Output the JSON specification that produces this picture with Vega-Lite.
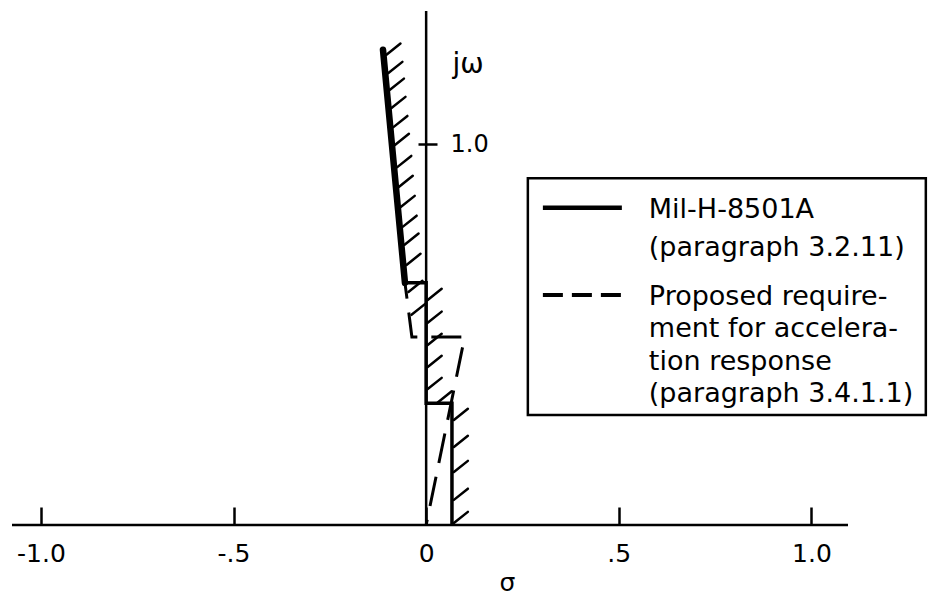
{
  "$schema": "https://vega.github.io/schema/vega-lite/v6.json",
  "width": 836,
  "height": 514,
  "autosize": {"type": "none"},
  "padding": {"left": 12, "top": 11, "right": 81, "bottom": 70},
  "background": "white",
  "config": {
    "view": {"stroke": null},
    "font": "DejaVu Sans",
    "axis": {"grid": false, "labelColor": "black", "titleColor": "black", "tickColor": "black", "titleFontWeight": "normal"}
  },
  "datasets": {
    "boundary": [
      {"req": "Mil-H-8501A", "seq": 1, "sigma": -0.112, "omega": 1.248},
      {"req": "Mil-H-8501A", "seq": 2, "sigma": -0.055, "omega": 0.636},
      {"req": "Mil-H-8501A", "seq": 3, "sigma": 0, "omega": 0.636},
      {"req": "Mil-H-8501A", "seq": 4, "sigma": 0, "omega": 0.32},
      {"req": "Mil-H-8501A", "seq": 5, "sigma": 0.067, "omega": 0.32},
      {"req": "Mil-H-8501A", "seq": 6, "sigma": 0.067, "omega": 0},
      {"req": "Proposed", "seq": 1, "sigma": -0.112, "omega": 1.248},
      {"req": "Proposed", "seq": 2, "sigma": -0.055, "omega": 0.636},
      {"req": "Proposed", "seq": 3, "sigma": -0.037, "omega": 0.494},
      {"req": "Proposed", "seq": 4, "sigma": 0.1, "omega": 0.494},
      {"req": "Proposed", "seq": 5, "sigma": 0, "omega": 0}
    ],
    "hatch": [
      {"sigma": -0.103, "omega": 1.235},
      {"sigma": -0.098, "omega": 1.187},
      {"sigma": -0.094, "omega": 1.143},
      {"sigma": -0.09, "omega": 1.095},
      {"sigma": -0.085, "omega": 1.045},
      {"sigma": -0.081, "omega": 0.998},
      {"sigma": -0.075, "omega": 0.94},
      {"sigma": -0.071, "omega": 0.888},
      {"sigma": -0.066, "omega": 0.835},
      {"sigma": -0.061, "omega": 0.783},
      {"sigma": -0.056, "omega": 0.736},
      {"sigma": -0.051, "omega": 0.683},
      {"sigma": -0.046, "omega": 0.612},
      {"sigma": -0.038, "omega": 0.552},
      {"sigma": 0.004, "omega": 0.591},
      {"sigma": 0.004, "omega": 0.531},
      {"sigma": 0.004, "omega": 0.473},
      {"sigma": 0.004, "omega": 0.415},
      {"sigma": 0.004, "omega": 0.357},
      {"sigma": 0.03, "omega": 0.322},
      {"sigma": 0.072, "omega": 0.276},
      {"sigma": 0.072, "omega": 0.205},
      {"sigma": 0.072, "omega": 0.139},
      {"sigma": 0.072, "omega": 0.066},
      {"sigma": 0.072, "omega": 0.005}
    ],
    "single": [{}]
  },
  "layer": [
    {
      "description": "Requirement boundaries; this layer also carries the shared scales and axes",
      "data": {"name": "boundary"},
      "transform": [{"filter": "datum.req === 'Proposed'"}],
      "mark": {"type": "line", "color": "black", "strokeWidth": 3, "strokeDash": [30, 14]},
      "encoding": {
        "x": {
          "field": "sigma",
          "type": "quantitative",
          "scale": {"domain": [-1.075, 1.095], "nice": false, "zero": false},
          "axis": {
            "orient": "bottom",
            "offset": -18,
            "domain": false,
            "values": [-1, -0.5, 0, 0.5, 1],
            "tickSize": 18,
            "tickWidth": 2.5,
            "labelExpr": "datum.value == 0 ? '0' : datum.value == 1 ? '1.0' : datum.value == -1 ? '-1.0' : datum.value == 0.5 ? '.5' : '-.5'",
            "labelFontSize": 25,
            "labelPadding": 16,
            "labelFlush": false,
            "labelOverlap": false,
            "title": "σ",
            "titleFontSize": 25,
            "titleX": 495,
            "titleY": 75,
            "titleAlign": "center",
            "titleBaseline": "middle"
          }
        },
        "y": {
          "field": "omega",
          "type": "quantitative",
          "scale": {"domain": [0, 1.35], "nice": false, "zero": false},
          "axis": {
            "orient": "right",
            "offset": -430,
            "domain": false,
            "values": [1],
            "tickSize": 19,
            "tickWidth": 2.5,
            "labelExpr": "'1.0'",
            "labelFontSize": 24,
            "labelPadding": 13,
            "labelAlign": "left",
            "labelBaseline": "middle",
            "title": "jω",
            "titleAngle": 0,
            "titleX": 34,
            "titleY": 61,
            "titleAlign": "left",
            "titleBaseline": "alphabetic",
            "titleFontSize": 28
          }
        },
        "order": {"field": "seq"}
      }
    },
    {
      "description": "Imaginary axis",
      "data": {"name": "single"},
      "mark": {"type": "rule", "color": "black", "strokeWidth": 2.5},
      "encoding": {"x": {"datum": 0, "type": "quantitative"}}
    },
    {
      "description": "Real axis",
      "data": {"name": "single"},
      "mark": {"type": "rule", "color": "black", "strokeWidth": 2.5},
      "encoding": {"y": {"datum": 0, "type": "quantitative"}}
    },
    {
      "data": {"name": "boundary"},
      "transform": [{"filter": "datum.req === 'Mil-H-8501A'"}],
      "mark": {"type": "line", "color": "black", "strokeWidth": 3.5},
      "encoding": {
        "x": {"field": "sigma", "type": "quantitative"},
        "y": {"field": "omega", "type": "quantitative"},
        "order": {"field": "seq"}
      }
    },
    {
      "description": "Segment shared by both requirements, drawn heavier",
      "data": {"name": "boundary"},
      "transform": [{"filter": "datum.req === 'Mil-H-8501A' && datum.seq <= 2"}],
      "mark": {"type": "line", "color": "black", "strokeWidth": 6.5, "strokeCap": "round"},
      "encoding": {
        "x": {"field": "sigma", "type": "quantitative"},
        "y": {"field": "omega", "type": "quantitative"},
        "order": {"field": "seq"}
      }
    },
    {
      "description": "Hatching on the excluded side of each boundary",
      "data": {"name": "hatch"},
      "mark": {"type": "point", "shape": "M0,0L1,-0.8", "filled": false, "stroke": "black", "strokeWidth": 2.5, "size": 784, "opacity": 1, "strokeCap": "round"},
      "encoding": {
        "x": {"field": "sigma", "type": "quantitative"},
        "y": {"field": "omega", "type": "quantitative"}
      }
    },
    {
      "description": "Key box",
      "data": {"name": "single"},
      "mark": {"type": "rect", "fill": "white", "stroke": "black", "strokeWidth": 2.5},
      "encoding": {
        "x": {"datum": 0.264, "type": "quantitative"},
        "x2": {"datum": 1.297},
        "y": {"datum": 0.289, "type": "quantitative"},
        "y2": {"datum": 0.911}
      }
    },
    {
      "data": {"name": "single"},
      "mark": {"type": "rule", "color": "black", "strokeWidth": 4.5},
      "encoding": {
        "x": {"datum": 0.303, "type": "quantitative"},
        "x2": {"datum": 0.508},
        "y": {"datum": 0.833, "type": "quantitative"}
      }
    },
    {
      "data": {"name": "single"},
      "mark": {"type": "rule", "color": "black", "strokeWidth": 4, "strokeDash": [20, 9]},
      "encoding": {
        "x": {"datum": 0.303, "type": "quantitative"},
        "x2": {"datum": 0.508},
        "y": {"datum": 0.604, "type": "quantitative"}
      }
    },
    {
      "data": {"name": "single"},
      "mark": {"type": "text", "align": "left", "baseline": "alphabetic", "fontSize": 27, "lineHeight": 38, "color": "black"},
      "encoding": {
        "x": {"datum": 0.578, "type": "quantitative"},
        "y": {"datum": 0.806, "type": "quantitative"},
        "text": {"value": ["Mil-H-8501A", "(paragraph 3.2.11)"]}
      }
    },
    {
      "data": {"name": "single"},
      "mark": {"type": "text", "align": "left", "baseline": "alphabetic", "fontSize": 27, "lineHeight": 32.5, "color": "black"},
      "encoding": {
        "x": {"datum": 0.578, "type": "quantitative"},
        "y": {"datum": 0.578, "type": "quantitative"},
        "text": {"value": ["Proposed require-", "ment for accelera-", "tion response", "(paragraph 3.4.1.1)"]}
      }
    }
  ]
}
